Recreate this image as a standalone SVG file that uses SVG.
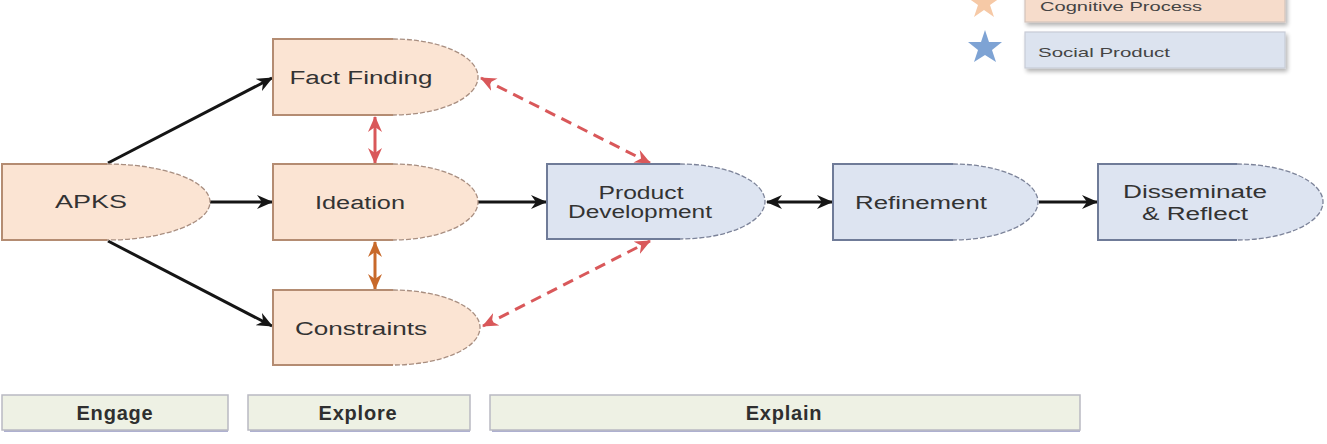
<svg xmlns="http://www.w3.org/2000/svg" width="1327" height="444" viewBox="0 0 1327 444">
<style>
.pf{fill:#fbe4d3}
.bf{fill:#dde4f1}
.pe{fill:none;stroke:#b48c72;stroke-width:2}
.pa{fill:none;stroke:#a88e80;stroke-width:1.3;stroke-dasharray:5 2}
.be{fill:none;stroke:#6f7b98;stroke-width:2}
.ba{fill:none;stroke:#7c8399;stroke-width:1.3;stroke-dasharray:5 2}
.t{font-family:"Liberation Sans",Arial,sans-serif;font-size:18px;fill:#333;text-anchor:middle}
.lt{font-family:"Liberation Sans",Arial,sans-serif;font-size:13px;fill:#444}
.ph{fill:#eef1e4;stroke:#b9b9c2;stroke-width:1.5}
.phs{fill:#aeb0d0}
.pt{font-family:"Liberation Sans",Arial,sans-serif;font-size:20px;font-weight:bold;fill:#2f2f2f;text-anchor:middle;letter-spacing:0.8px}
.k{fill:none;stroke:#151515;stroke-width:3}
.r{fill:none;stroke:#d9585a;stroke-width:3}
.rd{fill:none;stroke:#d9585a;stroke-width:3;stroke-dasharray:11 7}
.o{fill:none;stroke:#c8692a;stroke-width:3}
</style>
<defs>
<marker id="ak" markerUnits="userSpaceOnUse" markerWidth="16" markerHeight="14" refX="15" refY="7" orient="auto-start-reverse">
<path d="M0,0 L16,7 L0,14 L5,7 Z" fill="#151515"/>
</marker>
<marker id="ar" markerUnits="userSpaceOnUse" markerWidth="16" markerHeight="14" refX="15" refY="7" orient="auto-start-reverse">
<path d="M0,0 L16,7 L0,14 L5,7 Z" fill="#d9585a"/>
</marker>
<marker id="ao" markerUnits="userSpaceOnUse" markerWidth="16" markerHeight="14" refX="15" refY="7" orient="auto-start-reverse">
<path d="M0,0 L16,7 L0,14 L5,7 Z" fill="#c8692a"/>
</marker>
<filter id="sh" x="-10%" y="-20%" width="130%" height="160%">
<feGaussianBlur in="SourceAlpha" stdDeviation="2"/>
<feOffset dx="2" dy="3"/>
<feComponentTransfer><feFuncA type="linear" slope="0.3"/></feComponentTransfer>
<feMerge><feMergeNode/><feMergeNode in="SourceGraphic"/></feMerge>
</filter>
</defs>

<g id="legend">
<polygon points="984,-14 988,-2 1000,-2 990,5 994,17 984,10 974,17 978,5 968,-2 980,-2" fill="#f6c9a6"/>
<rect x="1025" y="-10" width="260" height="32" fill="#f6dccb" stroke="#d3c3bb" stroke-width="1.2" filter="url(#sh)"/>
<text class="lt" x="1040" y="11" font-size="12" textLength="162" lengthAdjust="spacingAndGlyphs">Cognitive Process</text>
<polygon points="985,30 989,42 1002,42 992,50 996,62 985,55 974,62 978,50 968,42 981,42" fill="#7ea3d4"/>
<rect x="1025" y="32" width="260" height="36" fill="#dce3ef" stroke="#c7cbd6" stroke-width="1.2" filter="url(#sh)"/>
<text class="lt" x="1038" y="57" textLength="132" lengthAdjust="spacingAndGlyphs">Social Product</text>
</g>

<g id="connectors">
<line class="k" x1="108" y1="163" x2="272" y2="78" marker-end="url(#ak)"/>
<line class="k" x1="108" y1="241" x2="272" y2="326" marker-end="url(#ak)"/>
<line class="k" x1="210" y1="202" x2="272" y2="202" marker-end="url(#ak)"/>
<line class="k" x1="478" y1="202" x2="546" y2="202" marker-end="url(#ak)"/>
<line class="k" x1="767" y1="202" x2="832" y2="202" marker-start="url(#ak)" marker-end="url(#ak)"/>
<line class="k" x1="1039" y1="202" x2="1097" y2="202" marker-end="url(#ak)"/>
<line class="rd" x1="481" y1="78" x2="650" y2="163" marker-start="url(#ar)" marker-end="url(#ar)"/>
<line class="rd" x1="483" y1="326" x2="650" y2="241" marker-start="url(#ar)" marker-end="url(#ar)"/>
<line class="r" x1="375" y1="117" x2="375" y2="163" marker-start="url(#ar)" marker-end="url(#ar)"/>
<line class="o" x1="375" y1="242" x2="375" y2="289" marker-start="url(#ao)" marker-end="url(#ao)"/>
</g>

<g id="apks">
<path class="pf" d="M2,164 H107 A103,38 0 0 1 107,240 H2 Z"/>
<path class="pe" d="M107,164 H2 V240 H107"/>
<path class="pa" d="M107,164 A103,38 0 0 1 107,240"/>
<text class="t" x="91" y="208" textLength="72" lengthAdjust="spacingAndGlyphs">APKS</text>
</g>

<g id="fact-finding">
<path class="pf" d="M273,39 H393 A85,38 0 0 1 393,115 H273 Z"/>
<path class="pe" d="M393,39 H273 V115 H393"/>
<path class="pa" d="M393,39 A85,38 0 0 1 393,115"/>
<text class="t" x="361" y="84" textLength="143" lengthAdjust="spacingAndGlyphs">Fact Finding</text>
</g>

<g id="ideation">
<path class="pf" d="M273,164 H393 A85,38 0 0 1 393,240 H273 Z"/>
<path class="pe" d="M393,164 H273 V240 H393"/>
<path class="pa" d="M393,164 A85,38 0 0 1 393,240"/>
<text class="t" x="360" y="209" textLength="90" lengthAdjust="spacingAndGlyphs">Ideation</text>
</g>

<g id="constraints">
<path class="pf" d="M273,290 H393 A87,37.5 0 0 1 393,365 H273 Z"/>
<path class="pe" d="M393,290 H273 V365 H393"/>
<path class="pa" d="M393,290 A87,37.5 0 0 1 393,365"/>
<text class="t" x="361" y="335" textLength="132" lengthAdjust="spacingAndGlyphs">Constraints</text>
</g>

<g id="product-development">
<path class="bf" d="M547,164 H680 A85,37.5 0 0 1 680,239 H547 Z"/>
<path class="be" d="M680,164 H547 V239 H680"/>
<path class="ba" d="M680,164 A85,37.5 0 0 1 680,239"/>
<text class="t" x="641" y="199" textLength="85" lengthAdjust="spacingAndGlyphs">Product</text>
<text class="t" x="640" y="218" textLength="144" lengthAdjust="spacingAndGlyphs">Development</text>
</g>

<g id="refinement">
<path class="bf" d="M833,164 H953 A85,38 0 0 1 953,240 H833 Z"/>
<path class="be" d="M953,164 H833 V240 H953"/>
<path class="ba" d="M953,164 A85,38 0 0 1 953,240"/>
<text class="t" x="921" y="209" textLength="132" lengthAdjust="spacingAndGlyphs">Refinement</text>
</g>

<g id="disseminate">
<path class="bf" d="M1098,164 H1237 A86,38 0 0 1 1237,240 H1098 Z"/>
<path class="be" d="M1237,164 H1098 V240 H1237"/>
<path class="ba" d="M1237,164 A86,38 0 0 1 1237,240"/>
<text class="t" x="1195" y="198" textLength="144" lengthAdjust="spacingAndGlyphs">Disseminate</text>
<text class="t" x="1195" y="220" textLength="106" lengthAdjust="spacingAndGlyphs">&amp; Reflect</text>
</g>

<g id="engage">
<rect class="phs" x="4" y="429" width="224" height="3"/>
<rect class="ph" x="2" y="395" width="226" height="35"/>
<text class="pt" x="115" y="420">Engage</text>
</g>
<g id="explore">
<rect class="phs" x="250" y="429" width="220" height="3"/>
<rect class="ph" x="248" y="395" width="222" height="35"/>
<text class="pt" x="358" y="420">Explore</text>
</g>
<g id="explain">
<rect class="phs" x="492" y="429" width="588" height="3"/>
<rect class="ph" x="490" y="395" width="590" height="35"/>
<text class="pt" x="784" y="420">Explain</text>
</g>
</svg>
